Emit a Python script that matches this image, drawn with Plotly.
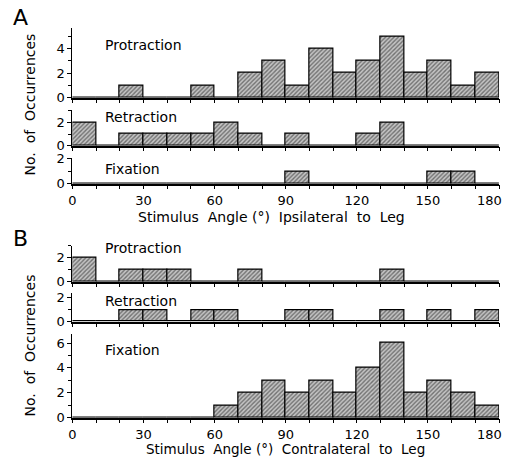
import plotly.graph_objects as go

# ---- data ----
bin_left = [0, 10, 20, 30, 40, 50, 60, 70, 80, 90, 100, 110, 120, 130, 140, 150, 160, 170]

a_protraction = [0, 0, 1, 0, 0, 1, 0, 2, 3, 1, 4, 2, 3, 5, 2, 3, 1, 2]
a_retraction  = [2, 0, 1, 1, 1, 1, 2, 1, 0, 1, 0, 0, 1, 2, 0, 0, 0, 0]
a_fixation    = [0, 0, 0, 0, 0, 0, 0, 0, 0, 1, 0, 0, 0, 0, 0, 1, 1, 0]

b_protraction = [2, 0, 1, 1, 1, 0, 0, 1, 0, 0, 0, 0, 0, 1, 0, 0, 0, 0]
b_retraction  = [0, 0, 1, 1, 0, 1, 1, 0, 0, 1, 1, 0, 0, 1, 0, 1, 0, 1]
b_fixation    = [0, 0, 0, 0, 0, 0, 1, 2, 3, 2, 3, 2, 4, 6, 2, 3, 2, 1]

x_ticks = [0, 30, 60, 90, 120, 150, 180]
x_ticktext = ["0", "30", "60", "90", "120", "150", ""]
last_tick_label = "180"
panel_names = ["Protraction", "Retraction", "Fixation"]
xtitle_a = "Stimulus  Angle (°)  Ipsilateral  to  Leg"
xtitle_b = "Stimulus  Angle (°)  Contralateral  to  Leg"
ytitle = "No.  of  Occurrences"

W, H = 504, 464
FONT = "DejaVu Sans"

def px(p):
    return p / W

def vy(r):
    # vertical placement, adjusted for how the page is captured
    return (r - 5.3) / 0.97

def py(r):
    return 1 - vy(r) / H

# (values, y top, y bottom, y max, show x labels)
panels = [
    (a_protraction, 27, 97, 5.7, False),
    (a_retraction, 109, 145, 3.1, False),
    (a_fixation, 157, 183, 2.1, True),
    (b_protraction, 245, 281, 3.0, False),
    (b_retraction, 292.5, 321, 2.4, False),
    (b_fixation, 333, 417, 6.76, True),
]

fig = go.Figure()
layout = {}
annotations = []
for i, (vals, top, bot, ymax, showlab) in enumerate(panels):
    n = i + 1
    xa = "x" if n == 1 else f"x{n}"
    ya = "y" if n == 1 else f"y{n}"
    fig.add_trace(go.Bar(
        x=bin_left, y=vals, offset=0, width=10,
        xaxis=xa, yaxis=ya,
        marker=dict(
            color="#c4c4c4",
            line=dict(color="black", width=1.2),
            pattern=dict(shape="/", fgcolor="#1e1e1e", bgcolor="#c4c4c4",
                         size=3, solidity=0.45),
        ),
        showlegend=False, hoverinfo="skip",
    ))
    xkey = "xaxis" if n == 1 else f"xaxis{n}"
    ykey = "yaxis" if n == 1 else f"yaxis{n}"
    layout[xkey] = dict(
        domain=[px(69), px(499)], range=[0, 180], anchor=ya,
        tickvals=x_ticks, ticktext=x_ticktext, showticklabels=showlab,
        ticks="outside", ticklen=4, tickwidth=1.2, tickcolor="black",
        minor=dict(dtick=10, tick0=0, ticks="outside", ticklen=4, tickwidth=1.2, tickcolor="black"),
        showline=True, linecolor="black", linewidth=1.5,
        showgrid=False, zeroline=False,
        tickfont=dict(family=FONT, size=13, color="black"),
    )
    layout[ykey] = dict(
        domain=[py(bot), py(top)], range=[0, ymax], anchor=xa,
        dtick=2, tick0=0,
        ticks="outside", ticklen=4, tickwidth=1.2, tickcolor="black",
        minor=dict(dtick=1, tick0=0, ticks="outside", ticklen=3, tickwidth=1, tickcolor="black"),
        showline=True, linecolor="black", linewidth=1.2,
        showgrid=False, zeroline=False,
        tickfont=dict(family=FONT, size=13, color="black"),
    )
    if showlab:
        # the last tick label sits at the page edge, so it is right-aligned
        annotations.append(dict(
            text=last_tick_label, xref="paper", yref="paper",
            x=1, y=1 - (vy(bot) + 17) / H, xanchor="right", yanchor="middle",
            showarrow=False, font=dict(family=FONT, size=13, color="black"),
        ))

label_y = [44, 116, 168, 247, 300, 349]
for i, yl in enumerate(label_y):
    annotations.append(dict(
        text=panel_names[i % 3], xref="paper", yref="paper",
        x=px(100), y=py(yl), xanchor="left", yanchor="middle",
        showarrow=False, font=dict(family=FONT, size=14, color="black"),
    ))
annotations += [
    dict(text="A", xref="paper", yref="paper", x=px(7), y=py(17), xanchor="left",
         yanchor="middle", showarrow=False, font=dict(family=FONT, size=22, color="black")),
    dict(text="B", xref="paper", yref="paper", x=px(7), y=py(238), xanchor="left",
         yanchor="middle", showarrow=False, font=dict(family=FONT, size=22, color="black")),
    dict(text=xtitle_a, xref="paper", yref="paper", x=px(270), y=py(216), xanchor="center",
         yanchor="middle", showarrow=False, font=dict(family=FONT, size=14, color="black")),
    dict(text=xtitle_b, xref="paper", yref="paper", x=px(284), y=py(448), xanchor="center",
         yanchor="middle", showarrow=False, font=dict(family=FONT, size=13.5, color="black")),
    dict(text=ytitle, xref="paper", yref="paper", x=px(26), y=py(104), xanchor="center",
         yanchor="middle", textangle=-90, showarrow=False, font=dict(family=FONT, size=14, color="black")),
    dict(text=ytitle, xref="paper", yref="paper", x=px(26), y=py(345), xanchor="center",
         yanchor="middle", textangle=-90, showarrow=False, font=dict(family=FONT, size=14, color="black")),
]

fig.update_layout(
    width=W, height=H, margin=dict(l=0, r=0, t=0, b=0),
    paper_bgcolor="white", plot_bgcolor="white",
    bargap=0, annotations=annotations, **layout,
)

fig.write_html(
    "out.html",
    config={"displayModeBar": False},
    post_script=(
        "document.body.style.margin='0';"
        "document.documentElement.style.overflow='hidden';"
        "document.body.style.overflow='hidden';"
    ),
)
